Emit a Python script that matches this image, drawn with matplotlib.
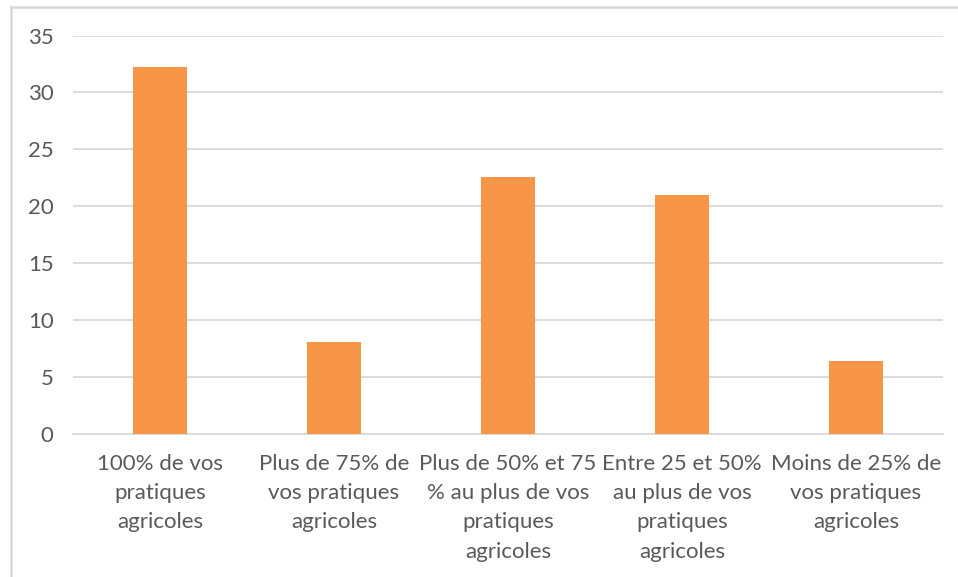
import matplotlib
matplotlib.use('Agg')
import matplotlib.pyplot as plt
from matplotlib.lines import Line2D

plt.rcParams['font.family'] = ['Lato', 'DejaVu Sans']

# share of respondents per category
categories = [
    "100% de vos\npratiques\nagricoles",
    "Plus de 75% de\nvos pratiques\nagricoles",
    "Plus de 50% et 75\n% au plus de vos\npratiques\nagricoles",
    "Entre 25 et 50%\nau plus de vos\npratiques\nagricoles",
    "Moins de 25% de\nvos pratiques\nagricoles",
]
values = [32.26, 8.06, 22.58, 20.97, 6.45]
yticks = [0, 5, 10, 15, 20, 25, 30, 35]

W, H = 958, 577
fig = plt.figure(figsize=(W / 100, H / 100), dpi=100)
ax = fig.add_axes([73 / W, 1 - 434.3 / H, 870 / W, 398.8 / H])

ax.bar(range(len(values)), values, width=0.316, color='#F79646', zorder=3)

ax.set_xlim(-0.5, len(values) - 0.5)
ax.set_ylim(0, 35)
ax.set_yticks(yticks)
ax.set_yticklabels([str(t) for t in yticks])
ax.set_xticks(range(len(categories)))
ax.set_xticklabels(categories, linespacing=1.58)

ax.grid(axis='y', color='#d9d9d9', linewidth=1.3, zorder=0)
for s in ['top', 'right', 'left']:
    ax.spines[s].set_visible(False)
ax.spines['bottom'].set_color('#d9d9d9')
ax.spines['bottom'].set_linewidth(1.3)
ax.tick_params(axis='both', length=0, labelsize=16, colors='#595959')
ax.tick_params(axis='y', pad=14)
ax.tick_params(axis='x', pad=14)

# outer chart frame (only left and top edges show)
fig.add_artist(Line2D([10.5 / W, 10.5 / W], [0, 1 - 7 / H], transform=fig.transFigure,
                      color='#d9d9d9', linewidth=1.8))
fig.add_artist(Line2D([10.5 / W, 1], [1 - 7 / H, 1 - 7 / H], transform=fig.transFigure,
                      color='#d9d9d9', linewidth=1.8))

fig.savefig('out.png', dpi=100)
